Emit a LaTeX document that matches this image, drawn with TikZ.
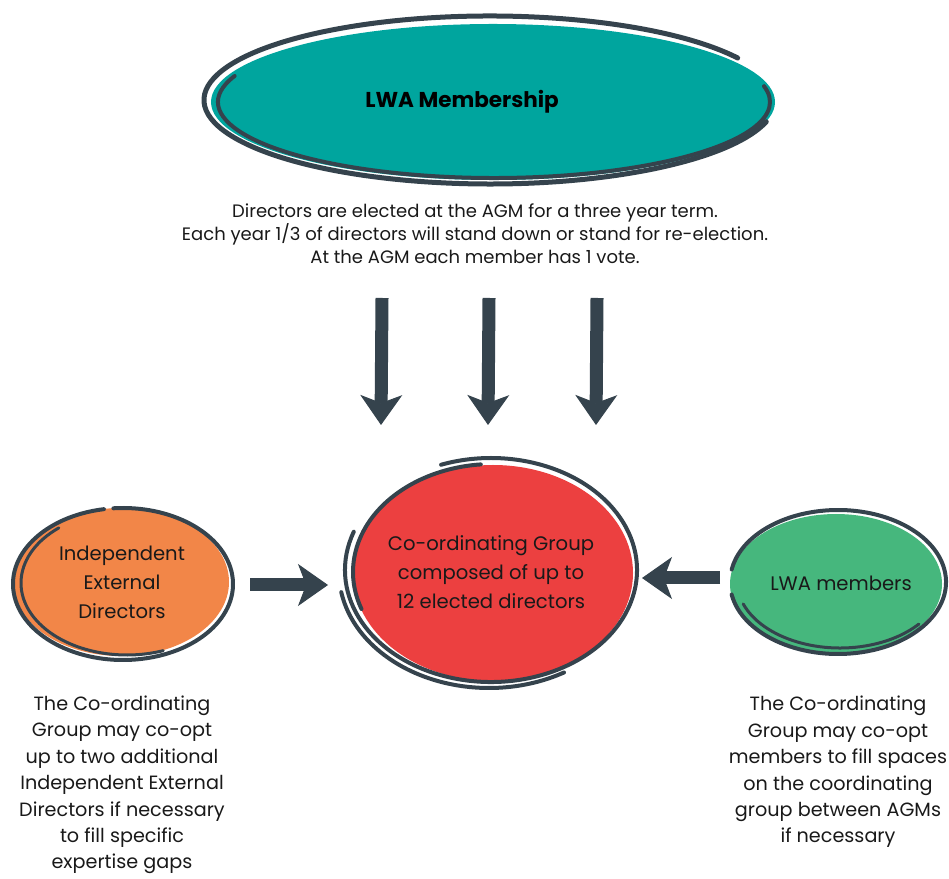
\documentclass[tikz,border=0pt]{standalone}
\usepackage{fontspec}
\setmainfont{Poppins}
\usetikzlibrary{arrows.meta,positioning}
\definecolor{ink}{HTML}{35434D}
\definecolor{lwateal}{HTML}{00A59E}
\definecolor{lwared}{HTML}{EC4040}
\definecolor{lwaorange}{HTML}{F28648}
\definecolor{lwagreen}{HTML}{46B77D}
\begin{document}
\begin{tikzpicture}[x=1pt,y=1pt,
	ring/.style={draw=ink,line width=4pt,line cap=round},
	fat/.style={draw=ink,line width=13pt,-{Stealth[length=30pt,width=42pt,inset=8pt,line width=1pt]}},
	label/.style={align=center,text=black!90,font=\fontsize{19.6}{29}\selectfont},
	note/.style={align=center,text=black!90,font=\fontsize{19.2}{26.4}\selectfont}]
	\useasboundingbox (0,0) rectangle (949,878);
	% top: membership
	\fill[lwateal] (493,776) ellipse [x radius=282, y radius=78];
	\draw[ring,line width=5pt] (490,778) +(30:286 and 84) arc [start angle=30, end angle=345, x radius=286, y radius=84];
	\draw[ring] (494,776) +(160:276 and 76) arc [start angle=160, end angle=372, x radius=276, y radius=76];
	\node[font=\bfseries\fontsize{21.5}{25}\selectfont] (member) at (462,776) {LWA Membership};
	\node[align=center,text=black!90,font=\fontsize{18}{23}\selectfont] (elect) at (475,644)
		{Directors are elected at the AGM for a three year term.\\
		 Each year 1/3 of directors will stand down or stand for re-election.\\
		 At the AGM each member has 1 vote.};
	% vote arrows
	\coordinate (v1) at (382,580); \coordinate (w1) at (381,453);
	\coordinate (v2) at (489,580); \coordinate (w2) at (488,453);
	\coordinate (v3) at (597,580); \coordinate (w3) at (596,453);
	\foreach \i in {1,2,3}
		\draw[fat] (v\i) -- (w\i);
	% middle: co-ordinating group
	\fill[lwared] (493,305) ellipse [x radius=140, y radius=108];
	\draw[ring] (491,308) +(160:146 and 112) arc [start angle=160, end angle=470, x radius=146, y radius=112];
	\draw[ring] (493,306) +(95:140 and 108) arc [start angle=95, end angle=200, x radius=140, y radius=108];
	\draw[ring] (489,306) +(190:150 and 116) arc [start angle=190, end angle=300, x radius=150, y radius=116];
	\node[label] (group) at (491,306) {Co-ordinating Group\\composed of up to\\12 elected directors};
	% left: independent directors
	\fill[lwaorange] (121,296) ellipse [x radius=108, y radius=74];
	\draw[ring] (123,294) +(100:110 and 76) arc [start angle=100, end angle=455, x radius=110, y radius=76];
	\draw[ring,line width=3pt] (127,295) +(130:106 and 72) arc [start angle=130, end angle=290, x radius=106, y radius=72];
	\node[label] (indep) at (122,296) {Independent\\External\\Directors};
	\coordinate (ia) at (250,293); \coordinate (ib) at (328,293);
	\draw[fat] (ia) -- (ib);
	\node[note] (indepnote) at (122,93) {The Co-ordinating\\Group may co-opt\\up to two additional\\Independent External\\Directors if necessary\\to fill specific\\expertise gaps};
	% right: members
	\fill[lwagreen] (836,294) ellipse [x radius=106, y radius=70];
	\draw[ring] (838,296) +(190:108 and 72) arc [start angle=190, end angle=530, x radius=108, y radius=72];
	\draw[ring,line width=3pt] (840,297) +(200:103 and 67) arc [start angle=200, end angle=320, x radius=103, y radius=67];
	\node[label] (lwamem) at (841,295) {LWA members};
	\coordinate (ma) at (720,300); \coordinate (mb) at (642,300);
	\draw[fat] (ma) -- (mb);
	\node[note] (memnote) at (838,106) {The Co-ordinating\\Group may co-opt\\members to fill spaces\\on the coordinating\\group between AGMs\\if necessary};
\end{tikzpicture}
\end{document}
